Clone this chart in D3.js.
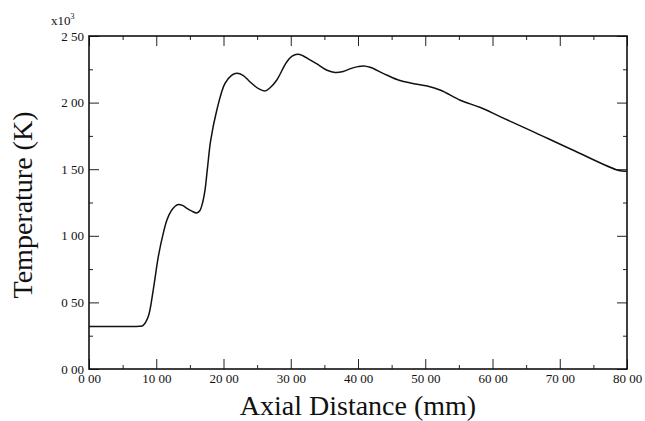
<!DOCTYPE html>
<html>
<head>
<meta charset="utf-8">
<script src="https://cdn.jsdelivr.net/npm/d3@7"></script>
<style>
  body { margin: 0; background: #fff; }
  svg text { font-family: "Liberation Serif", "Times New Roman", serif !important; fill: #111; }
</style>
</head>
<body>
<svg id="drawing_region"></svg>
<script>
// axial distance (mm) and temperature (x10^3 K)
const distance = [0, 4, 7.5, 8.05, 8.8, 9.55, 10.3, 11.04, 11.6, 12.2, 12.8, 13.3, 13.9, 14.5, 15.3, 16.0, 16.5, 16.9, 17.25, 17.6,
    18.1, 19.0, 20.2, 21.2, 22.0, 22.9, 23.95, 25.2, 26.2, 27.0, 27.9, 29.4, 30.2, 31.0, 31.8, 32.8, 33.9, 35.4, 36.6, 37.8,
    38.9, 40.0, 40.8, 41.8, 43.8, 45.8, 46.8, 48.5, 50.3, 52.3, 55.2, 58.2, 61.2, 65.7, 72.1, 78.8, 80];
const temperature = [0.32, 0.32, 0.321, 0.328, 0.392, 0.593, 0.842, 1.018, 1.12, 1.185, 1.222, 1.235, 1.228, 1.208, 1.185, 1.172, 1.19, 1.25, 1.343, 1.5,
    1.718, 1.943, 2.143, 2.205, 2.22, 2.205, 2.155, 2.105, 2.088, 2.115, 2.168, 2.305, 2.348, 2.363, 2.352, 2.322, 2.29, 2.243, 2.226, 2.234,
    2.255, 2.27, 2.275, 2.265, 2.218, 2.173, 2.158, 2.14, 2.125, 2.093, 2.018, 1.963, 1.893, 1.79, 1.64, 1.49, 1.485];

const xTicks = [0, 10, 20, 30, 40, 50, 60, 70, 80];
const xTickLabels = ["0 00", "10 00", "20 00", "30 00", "40 00", "50 00", "60 00", "70 00", "80 00"];
const yTicks = [0, 0.5, 1.0, 1.5, 2.0, 2.5];
const yTickLabels = ["0 00", "0 50", "1 00", "1 50", "2 00", "2 50"];

const config = {
    width: 645,
    height: 421,
    margin: {top: 36, right: 18, bottom: 52, left: 89}
};

const svg = d3.select('#drawing_region')
    .attr('width', config.width)
    .attr('height', config.height);

const inner_width = config.width - config.margin.left - config.margin.right;
const inner_height = config.height - config.margin.top - config.margin.bottom;

const chart = svg.append('g')
    .attr('transform', `translate(${config.margin.left}, ${config.margin.top})`);

const xscale = d3.scaleLinear().domain([0, 80]).range([0, inner_width]);
const yscale = d3.scaleLinear().domain([0, 2.5]).range([inner_height, 0]);

const xMinor = d3.range(5, 80, 10);
const yMinor = d3.range(0.25, 2.5, 0.5);

// frame ticks, all pointing inward
function ticks(axis, values, size, label) {
    axis.tickValues(values).tickSizeInner(-size).tickSizeOuter(0);
    if (label) axis.tickFormat((d, i) => label[i]).tickPadding(5);
    else axis.tickFormat('');
    return axis;
}

const sides = [
    [() => d3.axisBottom(xscale), `translate(0, ${inner_height})`, xTicks, xMinor, xTickLabels],
    [() => d3.axisTop(xscale), 'translate(0, 0)', xTicks, xMinor, null],
    [() => d3.axisLeft(yscale), 'translate(0, 0)', yTicks, yMinor, yTickLabels],
    [() => d3.axisRight(yscale), `translate(${inner_width}, 0)`, yTicks, yMinor, null]
];

sides.forEach(s => {
    chart.append('g')
        .attr('transform', s[1])
        .call(ticks(s[0](), s[3], 4));
    chart.append('g')
        .attr('class', 'major')
        .attr('transform', s[1])
        .call(ticks(s[0](), s[2], 10, s[4]));
});

chart.selectAll('.major text')
    .attr('font-size', 13)
    .style('font-family', '"Liberation Serif", serif');

chart.selectAll('.domain').remove();
chart.selectAll('.tick line').attr('stroke', '#222').attr('stroke-width', 1);

chart.append('rect')
    .attr('width', inner_width)
    .attr('height', inner_height)
    .attr('fill', 'none')
    .attr('stroke', '#111')
    .attr('stroke-width', 1.6);

const line = d3.line()
    .x(d => xscale(d[0]))
    .y(d => yscale(d[1]))
    .curve(d3.curveCatmullRom.alpha(0.5));

chart.append('path')
    .datum(d3.zip(distance, temperature))
    .attr('d', line)
    .attr('fill', 'none')
    .attr('stroke', '#111')
    .attr('stroke-width', 1.5);

// multiplier label
const mult = svg.append('text')
    .attr('x', 51)
    .attr('y', 25)
    .attr('font-size', 13);
mult.append('tspan').text('x10');
mult.append('tspan').attr('dy', -6).attr('font-size', 8).text('3');

svg.append('text')
    .attr('x', config.margin.left + inner_width / 2)
    .attr('y', 415)
    .attr('text-anchor', 'middle')
    .attr('font-size', 28)
    .text('Axial Distance (mm)');

svg.append('text')
    .attr('transform', `translate(32, 205) rotate(-90)`)
    .attr('text-anchor', 'middle')
    .attr('font-size', 28)
    .text('Temperature (K)');
</script>
</body>
</html>
